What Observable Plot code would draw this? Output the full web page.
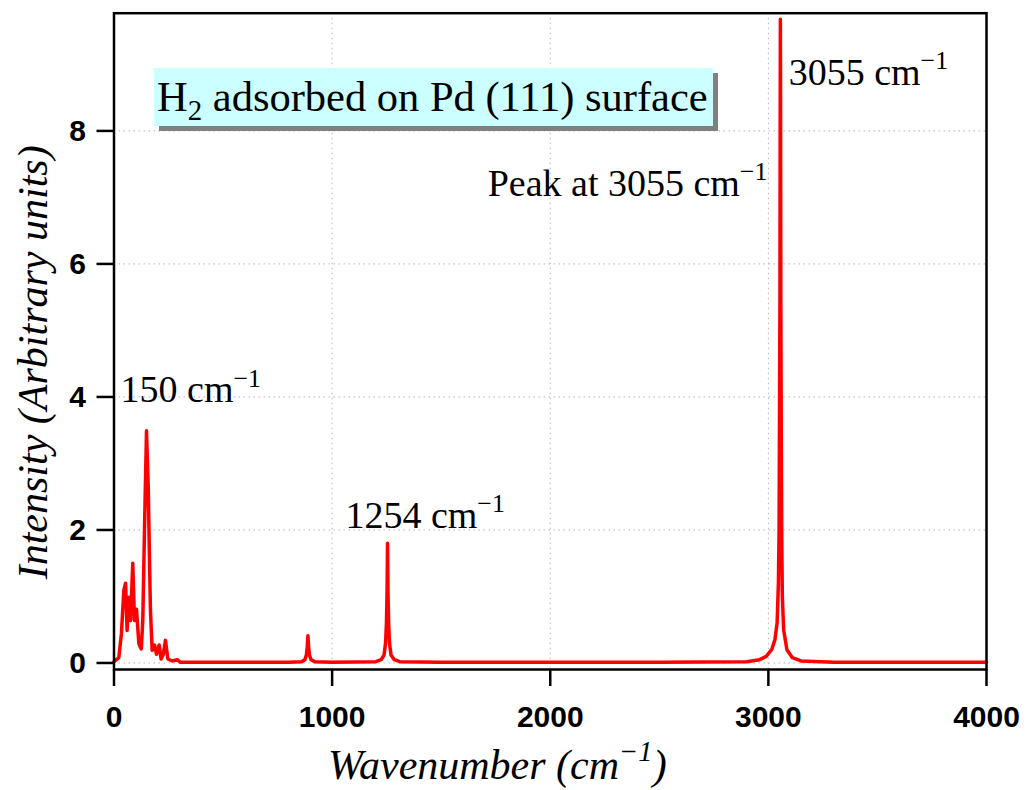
<!DOCTYPE html>
<html><head><meta charset="utf-8">
<script src="https://cdn.jsdelivr.net/npm/d3@7"></script>
<script src="https://cdn.jsdelivr.net/npm/@observablehq/plot@0.6"></script>
<style>
body{margin:0;background:#fff;}
#wrap{position:relative;width:1034px;height:790px;overflow:hidden;}
#title{position:absolute;left:154px;top:68px;width:559px;height:58px;background:#ccffff;box-shadow:5px 5px 0 #808080;
font-family:"Liberation Serif","Times New Roman",serif;font-size:42.5px;line-height:58px;color:#000;white-space:nowrap;padding-left:3px;box-sizing:border-box;z-index:2}
#title sub{font-size:0.68em;vertical-align:baseline;position:relative;top:0.3em;}
</style></head>
<body><div id="wrap"><div id="title">H<sub>2</sub> adsorbed on Pd (111) surface</div></div>
<script>
// Spectrum
const wavenumber = [0,22,34,45,53,60,68,76,86,94,103,114,125,132,140,149,157,163,167,175,186,195,207,216,226,236,247,267,290,305,400,600,800,
  860,875,882,886,889,892,896,903,920,1000,1200,1225,1238,1245,1249,1252,1254,1256,1259,1263,1270,1285,1310,1500,2000,2500,
  2900,2960,2990,3015,3030,3040,3046,3049,3051,3053,3054,3055,3056,3057,3059,3061,3064,3070,3085,3110,3150,3300,4000];
const intensity = [0.02,0.08,0.44,1.09,1.2,0.49,0.99,0.64,1.5,0.64,0.81,0.29,0.21,0.64,2.04,3.49,2.64,1.5,0.8,0.19,0.27,0.13,0.27,0.06,0.13,0.34,0.06,0.03,0.05,0.01,0.01,0.01,0.01,
  0.02,0.05,0.12,0.25,0.41,0.25,0.12,0.05,0.02,0.01,0.02,0.05,0.12,0.3,0.6,1.1,1.8,1.1,0.6,0.3,0.12,0.05,0.02,0.01,0.01,0.01,
  0.02,0.05,0.1,0.2,0.35,0.6,1.2,2.0,3.7,5.5,8.0,9.68,8.2,5.4,3.5,2.0,1.0,0.5,0.2,0.08,0.03,0.01,0.01];
const xTicks = [0,1000,2000,3000,4000];
const yTicks = [0,2,4,6,8];
const xGrid = [1000,2000,3000];
const annoText = ["150 cm⁻¹","1254 cm⁻¹","Peak at 3055 cm⁻¹","3055 cm⁻¹"];
const annoX = [30,1061,1713,3093];
const annoY = [4.10,2.22,7.21,8.88];
const xLabel = "Wavenumber (cm⁻¹)";
const yLabel = "Intensity (Arbitrary units)";

const data = wavenumber.map((w,i)=>({w, v:intensity[i]}));
const annos = annoText.map((t,i)=>({t, x:annoX[i], y:annoY[i]}));
const serif = "Liberation Serif, Times New Roman, serif";
const sans = "Liberation Sans, Arial, sans-serif";

const chart = Plot.plot({
  width:1034, height:790,
  marginLeft:113.5, marginRight:48, marginTop:12.7, marginBottom:121,
  x:{domain:[0,4000]},
  y:{domain:[-0.098,9.77]},
  marks:[
    Plot.ruleY(yTicks,{stroke:"#b4b4b4",strokeWidth:1,strokeDasharray:"1.5,3.5"}),
    Plot.ruleX(xGrid,{stroke:"#b4b4b4",strokeWidth:1,strokeDasharray:"1.5,3.5"}),
    Plot.line(data,{x:"w",y:"v",stroke:"#ff0000",strokeWidth:3.5,strokeLinejoin:"round"}),
    Plot.frame({stroke:"#000",strokeWidth:2.5}),
    Plot.axisY(yTicks,{tickSize:17,tickPadding:11,strokeWidth:2.5,fontSize:30,fontWeight:"bold",fontFamily:sans,label:null,tickFormat:d=>String(d)}),
    Plot.axisX(xTicks,{tickSize:17,tickPadding:19,strokeWidth:2.5,fontSize:30,fontWeight:"bold",fontFamily:sans,label:null,tickFormat:d=>String(d)}),
    Plot.text(annos,{x:"x",y:"y",text:"t",textAnchor:"start",lineAnchor:"middle",fontSize:38,fontFamily:serif,fill:"#000"}),
    Plot.text([xLabel],{frameAnchor:"bottom",textAnchor:"middle",dx:-53,dy:96,lineAnchor:"middle",fontSize:42,fontStyle:"italic",fontFamily:serif,fill:"#000"}),
    Plot.text([yLabel],{frameAnchor:"left",textAnchor:"middle",dx:-80,dy:21,rotate:-90,lineAnchor:"middle",fontSize:42,fontStyle:"italic",fontFamily:serif,fill:"#000"})
  ]
});
document.getElementById("wrap").prepend(chart);

// superscript "−1"
d3.select(chart).selectAll("text").each(function(){
  const el = this;
  const s = el.textContent;
  if (!s.includes("⁻¹")) return;
  const fs = parseFloat(getComputedStyle(el).fontSize) || 38;
  const [before, after] = s.split("⁻¹");
  el.textContent = "";
  const ns = "http://www.w3.org/2000/svg";
  const a = document.createElementNS(ns,"tspan"); a.textContent = before; el.appendChild(a);
  const b = document.createElementNS(ns,"tspan"); b.textContent = "−1";
  b.setAttribute("font-size", (fs*0.68)+"px"); b.setAttribute("dy", (-fs*0.42)+"px"); el.appendChild(b);
  if (after) { const c = document.createElementNS(ns,"tspan"); c.textContent = after; c.setAttribute("dy",(fs*0.42)+"px"); el.appendChild(c); }
});
</script>
</body></html>
